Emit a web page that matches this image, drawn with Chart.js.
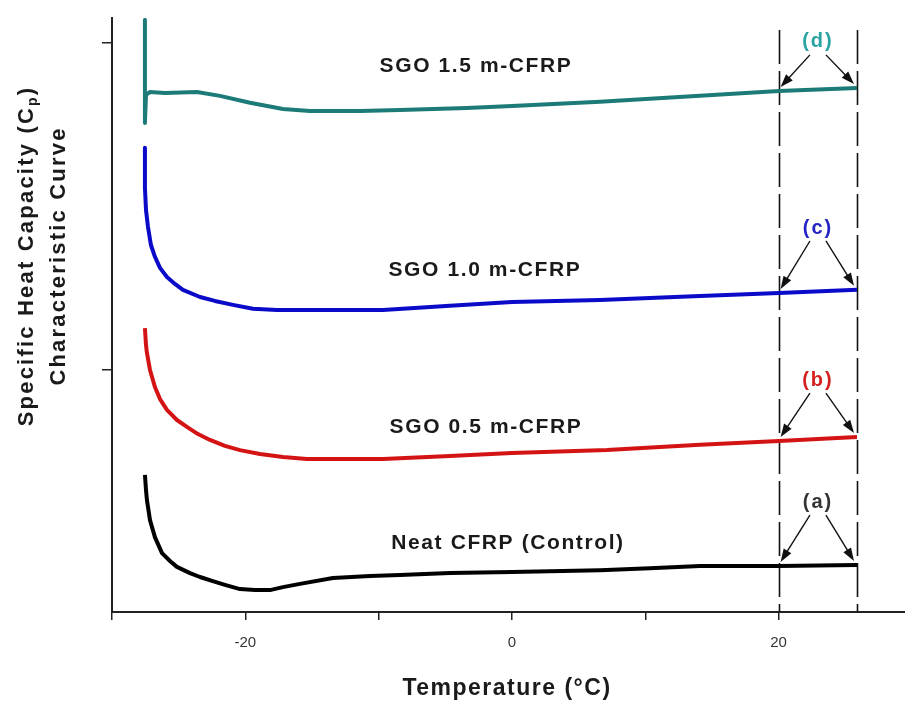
<!DOCTYPE html>
<html><head><meta charset="utf-8">
<script src="https://cdn.jsdelivr.net/npm/chart.js@4.4.1/dist/chart.umd.min.js"></script>
<style>html,body{margin:0;padding:0;background:#fff}#wrap{width:905px;height:704px}</style>
</head><body><div id="wrap"><canvas id="c" width="905" height="704"></canvas></div>
<script>
// ---- data (temperature in °C, Cp characteristic in arbitrary offset units) ----
const tealX = [-27.53,-27.53,-27.45,-27.15,-26.03,-23.63,-21.9,-19.65,-17.18,-15.15,-11.4,-8.4,-3.38,0,6.6,14.1,20.03,25.88];
const tealY = [2.07,1.755,1.841,1.850,1.847,1.850,1.838,1.817,1.798,1.792,1.792,1.795,1.801,1.807,1.820,1.838,1.853,1.862];

const blueX = [-27.53,-27.53,-27.45,-27.3,-27.08,-26.78,-26.4,-25.88,-25.28,-24.68,-23.4,-22.28,-20.93,-19.43,-17.63,-9.68,-4.65,0,6.6,14.1,20.03,25.88];
const blueY = [1.679,1.557,1.489,1.437,1.382,1.346,1.312,1.284,1.263,1.245,1.223,1.211,1.199,1.187,1.183,1.183,1.196,1.208,1.214,1.226,1.235,1.245];

const redX = [-27.53,-27.45,-27.38,-27.15,-26.78,-26.4,-25.88,-25.13,-24.38,-23.55,-22.65,-21.53,-20.4,-18.9,-17.18,-15.38,-9.68,-4.65,0,7.13,14.1,20.03,25.88];
const redY = [1.128,1.076,1.052,1.0,0.948,0.911,0.878,0.847,0.826,0.804,0.786,0.768,0.755,0.743,0.734,0.728,0.728,0.737,0.746,0.755,0.771,0.783,0.795];

const blackX = [-27.53,-27.45,-27.38,-27.15,-26.78,-26.25,-25.65,-25.13,-24.15,-23.4,-22.5,-21.53,-20.4,-19.28,-18.15,-17.18,-15.9,-13.43,-10.65,-8.4,-4.65,0,6.6,10.35,14.1,20.03,25.88];
const blackY = [0.679,0.633,0.602,0.541,0.489,0.440,0.416,0.398,0.379,0.367,0.355,0.343,0.330,0.327,0.327,0.336,0.346,0.364,0.370,0.373,0.379,0.382,0.388,0.394,0.401,0.401,0.404];

const seriesNames = ['Neat CFRP (Control)','SGO 0.5 m-CFRP','SGO 1.0 m-CFRP','SGO 1.5 m-CFRP'];
const seriesTags = ['(a)','(b)','(c)','(d)'];
const xTicks = [-30,-20,-10,0,10,20];
const xTickLabels = {'-20':'-20','0':'0','20':'20'};
const yTicks = [1,2];
const markerX = [20,25.88];

// ---- presentation ----
const lineColors = ['#000000','#d41414','#0a0ac8','#1c7b78'];
const tagColors = ['#333333','#d42020','#2424c4','#2aa3a3'];
const nameAnchor = [[-0.3,0.471],[-1.95,0.826],[-2.03,1.306],[-2.7,1.930]];
const tagAnchor = [[22.95,0.596],[22.95,0.969],[22.95,1.434],[22.95,2.003]];

const xs=[blackX,redX,blueX,tealX], ys=[blackY,redY,blueY,tealY];
const datasets = xs.map((xa,i)=>({
  label: seriesNames[i],
  data: xa.map((x,j)=>({x, y: ys[i][j]})),
  borderColor: lineColors[i], backgroundColor: lineColors[i],
  borderWidth: 4, pointRadius: 0, tension: 0, borderJoinStyle:'round', fill:false
}));

function nearestY(i, xv){
  let best=0; xs[i].forEach((x,j)=>{ if(Math.abs(x-xv)<Math.abs(xs[i][best]-xv)) best=j; });
  return ys[i][best];
}
function arrow(ctx,x1,y1,x2,y2){
  const a=Math.atan2(y2-y1,x2-x1), L=13, W=4.5;
  ctx.beginPath(); ctx.moveTo(x1,y1); ctx.lineTo(x2-L*0.7*Math.cos(a), y2-L*0.7*Math.sin(a)); ctx.stroke();
  ctx.beginPath(); ctx.moveTo(x2,y2);
  ctx.lineTo(x2-L*Math.cos(a)+W*Math.sin(a), y2-L*Math.sin(a)-W*Math.cos(a));
  ctx.lineTo(x2-L*Math.cos(a)-W*Math.sin(a), y2-L*Math.sin(a)+W*Math.cos(a));
  ctx.closePath(); ctx.fill();
}
const FONT='"Liberation Sans", Arial, sans-serif';
const annot = {
  id:'annot',
  beforeDatasetsDraw(chart){
    const {ctx, scales:{x,y}, chartArea} = chart;
    ctx.save();
    ctx.strokeStyle='#111'; ctx.lineWidth=1.6; ctx.setLineDash([34,7]);
    markerX.forEach(mx=>{
      const px=Math.round(x.getPixelForValue(mx))+0.5;
      ctx.beginPath(); ctx.moveTo(px, chartArea.top+12); ctx.lineTo(px, chartArea.bottom); ctx.stroke();
    });
    ctx.restore();
  },
  afterDatasetsDraw(chart){
    const {ctx, scales:{x,y}} = chart;
    ctx.save();
    // curve names
    ctx.fillStyle='#1a1a1a'; ctx.font='bold 21px '+FONT; ctx.textAlign='center'; ctx.textBaseline='middle';
    ctx.letterSpacing='1.6px';
    seriesNames.forEach((n,i)=>ctx.fillText(n, x.getPixelForValue(nameAnchor[i][0]), y.getPixelForValue(nameAnchor[i][1])));
    // tags and arrows
    seriesNames.forEach((n,i)=>{
      const lx=x.getPixelForValue(tagAnchor[i][0]), ly=y.getPixelForValue(tagAnchor[i][1]);
      ctx.fillStyle=tagColors[i]; ctx.font='bold 20px '+FONT; ctx.letterSpacing='2px'; ctx.fillText(seriesTags[i], lx, ly);
      ctx.strokeStyle='#111'; ctx.fillStyle='#111'; ctx.lineWidth=1.4;
      const e1x=x.getPixelForValue(markerX[0])+2, e1y=y.getPixelForValue(nearestY(i,markerX[0]))-4;
      const e2x=x.getPixelForValue(markerX[1])-3, e2y=y.getPixelForValue(nearestY(i,markerX[1]))-4;
      arrow(ctx, lx-8, ly+13, e1x, e1y);
      arrow(ctx, lx+8, ly+13, e2x, e2y);
    });
    ctx.restore();
  },
  afterDraw(chart){
    const {ctx} = chart;
    ctx.save();
    ctx.fillStyle='#1a1a1a';
    // y title (two lines, rotated)
    ctx.translate(27, 256); ctx.rotate(-Math.PI/2);
    ctx.textBaseline='middle'; ctx.textAlign='left';
    ctx.letterSpacing='2.2px';
    ctx.font='bold 22px '+FONT;
    const a='Specific Heat Capacity (C', b='p', c=')';
    const wa=ctx.measureText(a).width; ctx.font='bold 14px '+FONT; const wb=ctx.measureText(b).width;
    ctx.font='bold 22px '+FONT; const wc=ctx.measureText(c).width;
    let sx=-(wa+wb+wc)/2;
    ctx.fillText(a, sx, 0); ctx.font='bold 14px '+FONT; ctx.fillText(b, sx+wa, 6);
    ctx.font='bold 22px '+FONT; ctx.fillText(c, sx+wa+wb, 0);
    ctx.textAlign='center'; ctx.fillText('Characteristic Curve', 0, 32);
    ctx.restore();
    ctx.save();
    ctx.fillStyle='#1a1a1a'; ctx.font='bold 23px '+FONT; ctx.textAlign='center'; ctx.textBaseline='middle';
    ctx.letterSpacing='1.5px';
    ctx.fillText('Temperature (°C)', 507, 689);
    ctx.restore();
  }
};

new Chart(document.getElementById('c'), {
  type:'line',
  data:{datasets},
  options:{
    responsive:false, animation:false, devicePixelRatio:1,
    layout:{padding:{top:18,right:0,bottom:0,left:0}},
    plugins:{legend:{display:false}, tooltip:{enabled:false}},
    scales:{
      x:{type:'linear', min:-30, max:29.48,
        afterBuildTicks:s=>{s.ticks=xTicks.map(v=>({value:v}));},
        afterFit:s=>{s.height=92;},
        border:{display:true,color:'#222',width:2},
        grid:{drawOnChartArea:false, drawTicks:true, tickLength:8, color:'#222', lineWidth:1.5},
        ticks:{autoSkip:false, maxRotation:0, padding:14, color:'#333', font:{family:FONT,size:15},
          callback:v=>xTickLabels[String(v)]||''}
      },
      y:{type:'linear', min:0.26, max:2.076,
        afterBuildTicks:s=>{s.ticks=yTicks.map(v=>({value:v}));},
        afterFit:s=>{s.width=112;},
        border:{display:true,color:'#222',width:2},
        grid:{drawOnChartArea:false, drawTicks:true, tickLength:10, color:'#222', lineWidth:1.5},
        ticks:{callback:()=>'', padding:0}
      }
    }
  },
  plugins:[annot]
});
</script></body></html>
